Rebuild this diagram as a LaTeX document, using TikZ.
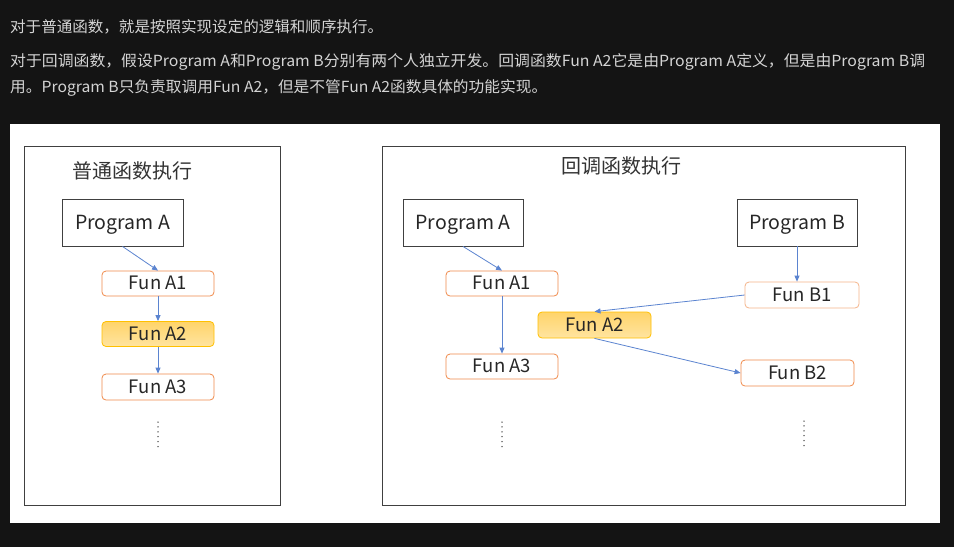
\documentclass[tikz,border=0pt]{standalone}
\usepackage{fontspec}
\usepackage{graphicx}
\setmainfont{Noto Sans CJK SC}
\usetikzlibrary{arrows.meta}
\definecolor{bgdark}{HTML}{141414}
\definecolor{toptext}{HTML}{D4D4D4}
\definecolor{framegray}{HTML}{404040}
\definecolor{funorange}{HTML}{F08A4B}
\definecolor{funorangelight}{HTML}{F5B48A}
\definecolor{hiborder}{HTML}{FFC000}
\definecolor{hitop}{HTML}{FFD46A}
\definecolor{hibot}{HTML}{FFE4A0}
\definecolor{arrowblue}{HTML}{5B84D0}
\tikzset{
  toptxt/.style={anchor=base west, text=toptext, inner sep=0pt, font=\fontsize{15.3}{18}\selectfont},
  frame/.style={draw=framegray, line width=0.9pt, fill=white, inner sep=0pt},
  titletxt/.style={inner sep=0pt, text=black!80, font=\fontsize{20}{24}\selectfont},
  progbox/.style={draw=framegray, line width=0.9pt, minimum width=120pt, minimum height=47pt, inner sep=0pt, text height=13pt, text depth=0pt, text=black!85, font=\fontsize{19.5}{22}\selectfont},
  funbox/.style={draw=funorange, line width=0.8pt, rounded corners=4pt, minimum width=112pt, minimum height=25pt, inner sep=0pt, text height=12.2pt, text depth=0pt, fill=white, text=black!85, font=\fontsize{18.5}{20}\selectfont},
  hibox/.style={funbox, draw=hiborder, top color=hitop, bottom color=hibot},
  conn/.style={draw=arrowblue, line width=0.8pt, -{Triangle[length=6pt,width=5pt]}},
  dotline/.style={draw=framegray, line width=1.5pt, line cap=round, dash pattern=on 0pt off 4.9pt}
}
\begin{document}
\begin{tikzpicture}[x=1pt,y=-1pt]
\fill[bgdark] (0,0) rectangle (954,547);
\useasboundingbox (0,0) rectangle (954,547);
% top text
\node[toptxt] (line1) at (10,32) {\resizebox{373pt}{\height}{对于普通函数，就是按照实现设定的逻辑和顺序执行。}};
\node[toptxt] (line2) at (10,66) {\resizebox{915pt}{\height}{对于回调函数，假设Program A和Program B分别有两个人独立开发。回调函数Fun A2它是由Program A定义，但是由Program B调}};
\node[toptxt] (line3) at (10,92) {\resizebox{537pt}{\height}{用。Program B只负责取调用Fun A2，但是不管Fun A2函数具体的功能实现。}};
% white panel
\fill[white] (10,124) rectangle (940,523);
% left frame
\node[frame, minimum width=256pt, minimum height=359pt] (lframe) at (152,325.5) {};
\node[titletxt] (ltitle) at (132,170.5) {普通函数执行};
\node[progbox, minimum width=121pt] (lpa) at (122.5,222.5) {Program A};
\node[funbox] (la1) at (158,283.5) {Fun A1};
\node[hibox] (la2) at (158,334) {Fun A2};
\node[funbox, minimum height=26pt] (la3) at (158,387) {Fun A3};
\coordinate (ld1) at (158,422);
\coordinate (ld2) at (158,447);
\draw[conn] (lpa.south) -- (la1.north);
\draw[conn] (la1.south) -- (la2.north);
\draw[conn] (la2.south) -- (la3.north);
\draw[dotline] (ld1) -- (ld2);
% right frame
\node[frame, minimum width=523pt, minimum height=359pt] (rframe) at (643.5,325.5) {};
\node[titletxt] (rtitle) at (621,166) {回调函数执行};
\node[progbox] (rpa) at (463,222.5) {Program A};
\node[progbox] (rpb) at (797,222.5) {Program B};
\node[funbox] (ra1) at (502,283.5) {Fun A1};
\node[funbox] (ra3) at (502,366.5) {Fun A3};
\node[hibox, minimum width=113pt, minimum height=26pt] (ra2) at (594.5,325) {Fun A2};
\node[funbox, draw=funorangelight, minimum width=114pt, minimum height=26pt] (rb1) at (802,295) {Fun B1};
\node[funbox, minimum width=113pt, minimum height=26pt] (rb2) at (797.5,373) {Fun B2};
\coordinate (rd1) at (502,422);
\coordinate (rd2) at (502,447);
\coordinate (rd3) at (804,421);
\coordinate (rd4) at (804,446);
\draw[conn] (rpa.south) -- (ra1.north);
\draw[conn] (ra1.south) -- (ra3.north);
\draw[conn] (rpb.south) -- (rpb.south |- rb1.north);
\draw[conn] (rb1.west) -- (ra2.north);
\draw[conn] (ra2.south) -- (rb2.west);
\draw[dotline] (rd1) -- (rd2);
\draw[dotline] (rd3) -- (rd4);
\end{tikzpicture}
\end{document}
